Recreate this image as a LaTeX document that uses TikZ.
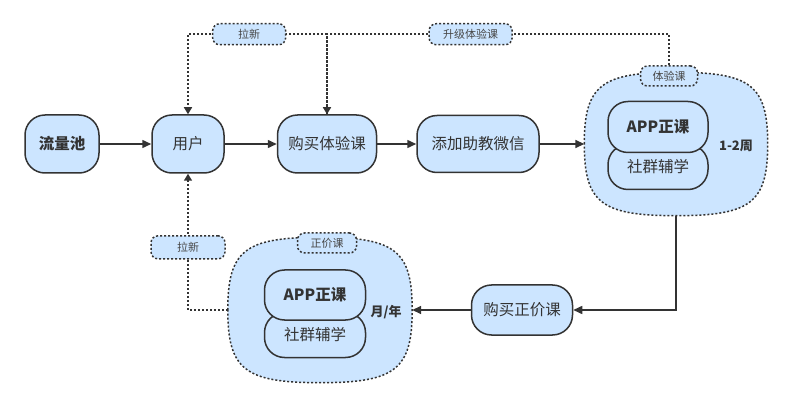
\documentclass[tikz,border=0pt]{standalone}
\usepackage{fontspec}
\setmainfont{Noto Sans CJK SC}
\usetikzlibrary{arrows.meta}
\definecolor{BoxBlue}{HTML}{CCE5FF}
\definecolor{Stroke}{HTML}{333333}
\tikzset{
  stepbox/.style={draw=Stroke, fill=BoxBlue, line width=1.5pt, rounded corners=20pt, inner sep=0, text=Stroke, font=\fontsize{15.5}{18}\selectfont},
  tagbox/.style={draw=Stroke, fill=BoxBlue, line width=1.5pt, dash pattern=on 2pt off 2pt, rounded corners=7pt, inner sep=0, minimum height=21pt, text=Stroke!90, font=\fontsize{11}{13}\selectfont},
  blob/.style={inner sep=0},
  blobline/.style={draw=Stroke, fill=BoxBlue, line width=1.5pt, dash pattern=on 2pt off 2pt},
  flow/.style={draw=Stroke, line width=1.5pt, -{Triangle[length=9pt, width=8pt]}},
  dotflow/.style={draw=Stroke, line width=1.5pt, dash pattern=on 2pt off 2pt, -{Triangle[length=7pt, width=8pt]}},
}
% blob outline round a node: #1 node, #2 half width, #3 half height
\newcommand{\blobshape}[3]{%
  \path[blobline] (#1.west) .. controls +(0,-0.82*#3) and +(-0.82*#2,0) .. (#1.north)
    .. controls +(0.82*#2,0) and +(0,-0.82*#3) .. (#1.east)
    .. controls +(0,0.82*#3) and +(0.82*#2,0) .. (#1.south)
    .. controls +(-0.82*#2,0) and +(0,0.82*#3) .. (#1.west) -- cycle;}
\begin{document}
\begin{tikzpicture}[x=1pt, y=-1pt]
  \useasboundingbox (0,0) rectangle (793,406);
  % main row
  \node[stepbox, minimum width=74pt, minimum height=58pt, font=\fontsize{15.5}{18}\selectfont\bfseries] (pool) at (62,144) {流量池};
  \node[stepbox, minimum width=72pt, minimum height=58pt] (user) at (188,144) {用户};
  \node[stepbox, minimum width=99pt, minimum height=58pt] (buytrial) at (327,144) {购买体验课};
  \node[stepbox, minimum width=122pt, minimum height=57pt] (wechat) at (478,144) {添加助教微信};
  % trial course group
  \node[blob, minimum width=183pt, minimum height=143pt] (trial) at (676,144) {};
  \blobshape{trial}{91.5}{71.5}
  \node[stepbox, minimum width=100pt, minimum height=45pt] (trialgroup) at (658,167) {社群辅学};
  \node[stepbox, minimum width=100pt, minimum height=51pt, font=\fontsize{15.5}{18}\selectfont\bfseries] (trialapp) at (658,127) {APP正课};
  \node[text=Stroke, font=\fontsize{13}{15}\selectfont\bfseries] (trialtime) at (736,146) {1-2周};
  \node[tagbox, minimum width=57pt, minimum height=20pt] (trialtag) at (669,76) {体验课};
  % full price course
  \node[stepbox, minimum width=101pt, minimum height=50pt] (buyfull) at (522,310) {购买正价课};
  \node[blob, minimum width=184pt, minimum height=145pt] (full) at (320,310) {};
  \blobshape{full}{92}{72.5}
  \node[stepbox, minimum width=101pt, minimum height=45pt] (fullgroup) at (315,335) {社群辅学};
  \node[stepbox, minimum width=101pt, minimum height=50pt, font=\fontsize{15.5}{18}\selectfont\bfseries] (fullapp) at (315,295) {APP正课};
  \node[text=Stroke, font=\fontsize{13}{15}\selectfont\bfseries] (fulltime) at (386,312) {月/年};
  \node[tagbox, minimum width=59pt, minimum height=20pt] (fulltag) at (327,243) {正价课};
  % connectors
  \draw[flow] (pool) -- (user);
  \draw[flow] (user) -- (buytrial);
  \draw[flow] (buytrial) -- (wechat);
  \draw[flow] (wechat) -- (trial.west);
  \draw[flow] (trial.south) |- (buyfull.east);
  \draw[flow] (buyfull.west) -- (full.east);
  \draw[dotflow] (trialtag.north) -- ++(0,-31) -| node[tagbox, minimum width=83pt, pos=0.29] (upgrade) {升级体验课} (buytrial.north);
  \draw[dotflow] (buytrial.north) -- ++(0,-80) -| node[tagbox, minimum width=73pt, pos=0.28] (pulltop) {拉新} (user.north);
  \draw[dotflow] (full.west) -| node[tagbox, minimum width=74pt, minimum height=23pt, pos=0.73] (pullbottom) {拉新} (user.south);
\end{tikzpicture}
\end{document}
